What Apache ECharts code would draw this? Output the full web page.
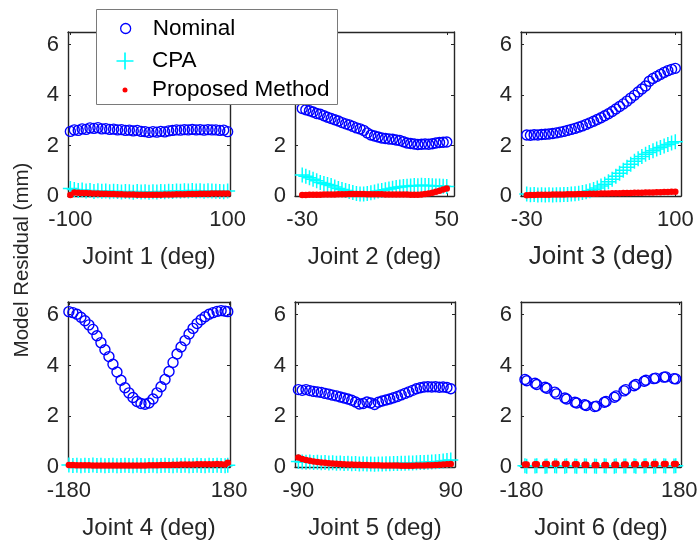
<!DOCTYPE html>
<html><head><meta charset="utf-8">
<script src="https://cdn.jsdelivr.net/npm/echarts@6/dist/echarts.min.js"></script>
<style>html,body{margin:0;padding:0;background:#fff}#c{width:699px;height:542px}</style>
</head><body><div id="c"></div>
<script>
// ---------- data ----------
const seriesNames = ['Nominal', 'CPA', 'Proposed Method'];
const xAxisTitles = ['Joint 1 (deg)', 'Joint 2 (deg)', 'Joint 3 (deg)', 'Joint 4 (deg)', 'Joint 5 (deg)', 'Joint 6 (deg)'];
const xTickValues = [[-100, 100], [-30, 50], [-30, 100], [-180, 180], [-90, 90], [-180, 180]];
const yTickValues = [0, 2, 4, 6];
const yTitle = 'Model Residual (mm)';

const x1 = [-100,-95,-90,-85,-80,-75,-70,-65,-60,-55,-50,-45,-40,-35,-30,-25,-20,-15,-10,-5,0,5,10,15,20,25,30,35,40,45,50,55,60,65,70,75,80,85,90,95,100];
const nominal1 = [2.56,2.62,2.60,2.66,2.64,2.70,2.68,2.71,2.66,2.67,2.64,2.65,2.62,2.63,2.60,2.61,2.58,2.60,2.56,2.55,2.52,2.55,2.53,2.56,2.54,2.58,2.60,2.62,2.61,2.63,2.62,2.64,2.62,2.63,2.61,2.63,2.62,2.62,2.60,2.61,2.55];
const cpa1 = [0.30,0.26,0.22,0.24,0.20,0.22,0.18,0.21,0.19,0.20,0.17,0.19,0.18,0.16,0.18,0.17,0.15,0.18,0.16,0.17,0.15,0.17,0.16,0.18,0.17,0.19,0.18,0.20,0.19,0.21,0.20,0.22,0.20,0.21,0.19,0.21,0.20,0.19,0.18,0.17,0.20];
const proposed1 = [0.04,0.14,0.13,0.12,0.12,0.11,0.10,0.10,0.09,0.09,0.08,0.08,0.07,0.07,0.06,0.06,0.06,0.05,0.05,0.05,0.05,0.05,0.05,0.05,0.06,0.06,0.06,0.07,0.07,0.07,0.08,0.08,0.08,0.09,0.09,0.09,0.10,0.10,0.10,0.10,0.10];

const x2 = [-30,-28,-26,-24,-22,-20,-18,-16,-14,-12,-10,-8,-6,-4,-2,0,2,4,6,8,10,12,14,16,18,20,22,24,26,28,30,32,34,36,38,40,42,44,46,48,50];
const nominal2 = [3.47,3.42,3.38,3.33,3.27,3.24,3.18,3.12,3.07,3.02,2.97,2.91,2.86,2.82,2.76,2.70,2.66,2.60,2.50,2.42,2.38,2.34,2.30,2.28,2.26,2.25,2.22,2.20,2.15,2.10,2.08,2.06,2.04,2.05,2.06,2.05,2.07,2.10,2.12,2.13,2.14];
const cpa2 = [0.83,0.78,0.72,0.66,0.60,0.54,0.50,0.46,0.42,0.36,0.30,0.26,0.22,0.18,0.14,0.10,0.08,0.08,0.10,0.13,0.16,0.20,0.22,0.25,0.28,0.31,0.34,0.36,0.38,0.39,0.40,0.42,0.41,0.43,0.42,0.42,0.41,0.40,0.40,0.39,0.38];
const proposed2 = [0.04,0.04,0.05,0.05,0.05,0.05,0.06,0.06,0.06,0.06,0.07,0.07,0.07,0.08,0.08,0.08,0.08,0.08,0.07,0.07,0.07,0.07,0.07,0.06,0.06,0.06,0.06,0.06,0.06,0.06,0.05,0.05,0.05,0.06,0.08,0.10,0.13,0.17,0.21,0.26,0.30];

const x3 = [-30,-26.75,-23.5,-20.25,-17,-13.75,-10.5,-7.25,-4,-0.75,2.5,5.75,9,12.25,15.5,18.75,22,25.25,28.5,31.75,35,38.25,41.5,44.75,48,51.25,54.5,57.75,61,64.25,67.5,70.75,74,77.25,80.5,83.75,87,90.25,93.5,96.75,100];
const nominal3 = [2.42,2.41,2.43,2.42,2.44,2.45,2.46,2.48,2.50,2.53,2.56,2.60,2.64,2.68,2.73,2.78,2.84,2.90,2.96,3.03,3.10,3.18,3.26,3.35,3.45,3.55,3.65,3.76,3.88,3.99,4.12,4.24,4.36,4.55,4.66,4.74,4.82,4.90,4.97,5.02,5.06];
const cpa3 = [0.08,0.05,0.06,0.04,0.05,0.04,0.05,0.04,0.05,0.05,0.06,0.06,0.08,0.09,0.11,0.14,0.17,0.21,0.26,0.32,0.40,0.47,0.56,0.66,0.78,0.90,1.02,1.14,1.26,1.38,1.48,1.57,1.65,1.72,1.79,1.86,1.92,1.98,2.04,2.10,2.15];
const proposed3 = [0.03,0.04,0.04,0.05,0.05,0.05,0.05,0.06,0.06,0.06,0.06,0.07,0.07,0.07,0.08,0.08,0.08,0.09,0.09,0.09,0.10,0.10,0.10,0.11,0.11,0.11,0.12,0.12,0.12,0.13,0.13,0.13,0.14,0.14,0.14,0.15,0.15,0.16,0.16,0.17,0.17];

const x4 = [-180,-171,-162,-153,-144,-135,-126,-117,-108,-99,-90,-81,-72,-63,-54,-45,-36,-27,-18,-9,0,9,18,27,36,45,54,63,72,81,90,99,108,117,126,135,144,153,162,171,177];
const nominal4 = [6.12,6.08,6.02,5.90,5.76,5.60,5.42,5.17,4.90,4.62,4.35,4.05,3.74,3.42,3.12,2.92,2.74,2.58,2.50,2.47,2.52,2.68,2.92,3.16,3.45,3.76,4.12,4.45,4.73,4.98,5.24,5.46,5.65,5.80,5.92,6.02,6.08,6.13,6.16,6.14,6.12];
const cpa4 = [0.08,0.06,0.07,0.05,0.07,0.06,0.08,0.06,0.07,0.05,0.06,0.07,0.05,0.06,0.07,0.06,0.05,0.07,0.06,0.05,0.06,0.07,0.05,0.06,0.07,0.06,0.05,0.07,0.06,0.07,0.05,0.06,0.07,0.06,0.05,0.07,0.06,0.07,0.06,0.05,0.07];
const proposed4 = [0.08,0.08,0.07,0.07,0.07,0.07,0.06,0.06,0.06,0.06,0.06,0.06,0.06,0.06,0.06,0.06,0.06,0.06,0.06,0.06,0.07,0.07,0.07,0.08,0.08,0.08,0.09,0.09,0.10,0.10,0.10,0.10,0.11,0.11,0.11,0.11,0.11,0.12,0.11,0.10,0.17];

const x5 = [-90,-85.5,-81,-76.5,-72,-67.5,-63,-58.5,-54,-49.5,-45,-40.5,-36,-31.5,-27,-22.5,-18,-13.5,-9,-4.5,0,4.5,9,13.5,18,22.5,27,31.5,36,40.5,45,49.5,54,58.5,63,67.5,72,76.5,81,85.5,90];
const nominal5 = [3.05,3.02,3.05,3.01,2.98,2.96,2.94,2.90,2.87,2.83,2.80,2.76,2.72,2.68,2.63,2.56,2.48,2.50,2.56,2.52,2.46,2.55,2.60,2.64,2.68,2.73,2.78,2.84,2.90,2.96,3.02,3.08,3.12,3.15,3.16,3.15,3.16,3.14,3.15,3.13,3.08];
const cpa5 = [0.22,0.20,0.19,0.20,0.18,0.19,0.17,0.18,0.16,0.17,0.15,0.16,0.14,0.15,0.13,0.14,0.12,0.13,0.12,0.12,0.11,0.12,0.12,0.13,0.13,0.14,0.14,0.15,0.15,0.16,0.16,0.17,0.18,0.18,0.19,0.20,0.21,0.22,0.24,0.26,0.28];
const proposed5 = [0.37,0.32,0.28,0.25,0.22,0.20,0.18,0.17,0.15,0.14,0.13,0.12,0.11,0.10,0.10,0.09,0.09,0.08,0.08,0.07,0.07,0.07,0.06,0.06,0.06,0.06,0.06,0.05,0.05,0.05,0.05,0.06,0.06,0.06,0.07,0.07,0.08,0.09,0.10,0.11,0.12];

const x6 = [-172,-168,-149,-145,-126,-122,-104,-100,-81,-77,-58,-54,-36,-32,-13,-9,9,13,32,36,54,58,77,81,100,104,122,126,145,149,168,172];
const nominal6 = [3.45,3.40,3.30,3.25,3.14,3.10,2.95,2.88,2.72,2.68,2.55,2.52,2.45,2.42,2.38,2.40,2.55,2.58,2.75,2.80,3.00,3.05,3.20,3.25,3.38,3.42,3.48,3.50,3.54,3.55,3.48,3.47];
const cpa6 = [0.05,0.03,0.04,0.05,0.03,0.04,0.05,0.04,0.03,0.05,0.04,0.03,0.05,0.04,0.04,0.03,0.05,0.04,0.03,0.05,0.04,0.04,0.05,0.03,0.04,0.05,0.03,0.04,0.05,0.04,0.04,0.05];
const proposed6 = [0.10,0.10,0.11,0.11,0.12,0.12,0.13,0.13,0.12,0.12,0.11,0.11,0.09,0.09,0.08,0.08,0.08,0.08,0.09,0.09,0.10,0.10,0.11,0.11,0.11,0.11,0.12,0.12,0.12,0.12,0.12,0.12];

// ---------- layout / style ----------
const panels = [
  {x: x1, ys: [nominal1, cpa1, proposed1]},
  {x: x2, ys: [nominal2, cpa2, proposed2]},
  {x: x3, ys: [nominal3, cpa3, proposed3]},
  {x: x4, ys: [nominal4, cpa4, proposed4]},
  {x: x5, ys: [nominal5, cpa5, proposed5]},
  {x: x6, ys: [nominal6, cpa6, proposed6]}
];
const xLimits = [[-103, 103], [-34, 54], [-35, 105], [-182, 182], [-94, 95], [-181, 184]];
const yLimit = [0, 6.5];
const gridBoxes = [
  {left: 68, top: 32, width: 162, height: 164},
  {left: 295, top: 32, width: 159, height: 164},
  {left: 521, top: 32, width: 160, height: 164},
  {left: 68, top: 302, width: 162, height: 165},
  {left: 295, top: 302, width: 160, height: 165},
  {left: 521, top: 302, width: 160, height: 165}
];
const FONT = '"Liberation Sans", Arial, Helvetica, sans-serif';
const AXC = '#262626';
const AXW = 1.4;
const PLUS = 'path://M9,0 H11 V9 H20 V11 H11 V20 H9 V11 H0 V9 H9 Z';

const grid = [], xAxis = [], yAxis = [], series = [];
const xTop = [], yRight = [];
panels.forEach((p, i) => {
  grid.push(Object.assign({outerBoundsMode: 'none', containLabel: false}, gridBoxes[i]));
  const nameSize = i === 2 ? 26 : 24;
  xAxis.push({
    type: 'value', gridIndex: i, position: 'bottom', min: xLimits[i][0], max: xLimits[i][1],
    name: xAxisTitles[i], nameLocation: 'middle', nameGap: 61 - nameSize / 2,
    nameTextStyle: {fontSize: nameSize, fontFamily: FONT, color: AXC},
    axisLine: {show: true, onZero: false, lineStyle: {color: AXC, width: AXW}},
    axisTick: {show: true, inside: true, length: 3, customValues: xTickValues[i], lineStyle: {color: AXC}},
    axisLabel: {show: true, customValues: xTickValues[i], margin: 13, fontSize: 22, fontFamily: FONT, color: AXC,
      formatter: v => String(v)},
    splitLine: {show: false}
  });
  xTop.push({
    type: 'value', gridIndex: i, position: 'top', min: xLimits[i][0], max: xLimits[i][1],
    axisLine: {show: true, onZero: false, lineStyle: {color: AXC, width: AXW}},
    axisTick: {show: true, inside: true, length: 3, customValues: xTickValues[i], lineStyle: {color: AXC}},
    axisLabel: {show: false}, splitLine: {show: false}
  });
  yAxis.push({
    type: 'value', gridIndex: i, position: 'left', min: yLimit[0], max: yLimit[1], interval: 2,
    axisLine: {show: true, onZero: false, lineStyle: {color: AXC, width: AXW}},
    axisTick: {show: true, inside: true, length: 3, customValues: yTickValues, lineStyle: {color: AXC}},
    axisLabel: {show: true, customValues: yTickValues, margin: 9, fontSize: 22, fontFamily: FONT, color: AXC,
      formatter: v => (yTickValues.indexOf(v) >= 0 ? String(v) : '')},
    splitLine: {show: false}
  });
  yRight.push({
    type: 'value', gridIndex: i, position: 'right', min: yLimit[0], max: yLimit[1], interval: 2,
    axisLine: {show: true, onZero: false, lineStyle: {color: AXC, width: AXW}},
    axisTick: {show: true, inside: true, length: 3, customValues: yTickValues, lineStyle: {color: AXC}},
    axisLabel: {show: false}, splitLine: {show: false}
  });
  const pts = k => p.x.map((xv, j) => [xv, p.ys[k][j]]);
  series.push({
    name: seriesNames[0], type: 'scatter', xAxisIndex: i, yAxisIndex: i, clip: false, silent: true,
    symbol: 'circle', symbolSize: 10,
    itemStyle: {color: 'rgba(0,0,0,0)', borderColor: '#0000ff', borderWidth: 1.4, opacity: 1},
    data: pts(0), z: 2
  });
  series.push({
    name: seriesNames[1], type: 'scatter', xAxisIndex: i, yAxisIndex: i, clip: false, silent: true,
    symbol: PLUS, symbolSize: 15, symbolKeepAspect: true,
    itemStyle: {color: '#00ffff', opacity: 1},
    data: pts(1), z: 3
  });
  series.push({
    name: seriesNames[2], type: 'scatter', xAxisIndex: i, yAxisIndex: i, clip: false, silent: true,
    symbol: 'circle', symbolSize: 6.5,
    itemStyle: {color: '#ff0000', opacity: 1},
    data: pts(2), z: 4
  });
});

// legend: content is shifted so its bounding box starts at `left`, i.e. at the icon's left edge
const legendBase = {
  orient: 'vertical', padding: 0, itemWidth: 44, selectedMode: false, z: 20,
  textStyle: {fontSize: 22.5, fontFamily: FONT, color: '#000'}
};
const legend = [
  Object.assign({}, legendBase, {left: 120, top: 17, itemHeight: 10,
    data: [{name: seriesNames[0], icon: 'circle', itemStyle: {color: 'rgba(0,0,0,0)', borderColor: '#0000ff', borderWidth: 1.3}}]}),
  Object.assign({}, legendBase, {left: 116.5, top: 49.5, itemHeight: 17,
    data: [{name: seriesNames[1], icon: PLUS, itemStyle: {color: '#00ffff', borderWidth: 0}}]}),
  Object.assign({}, legendBase, {left: 122.5, top: 78.5, itemHeight: 5,
    data: [{name: seriesNames[2], icon: 'circle', itemStyle: {color: '#ff0000', borderWidth: 0}}]})
];

const chart = echarts.init(document.getElementById('c'), null, {renderer: 'canvas'});
chart.setOption({
  backgroundColor: '#ffffff',
  animation: false,
  grid: grid,
  xAxis: xAxis.concat(xTop),
  yAxis: yAxis.concat(yRight),
  series: series,
  legend: legend,
  graphic: [
    {type: 'rect', z: 10, shape: {x: 96.5, y: 9.5, width: 241, height: 95},
     style: {fill: '#ffffff', stroke: '#7a7a7a', lineWidth: 1}},
    {type: 'text', z: 10, x: 22, y: 260, rotation: Math.PI / 2,
     style: {text: yTitle, font: '20.5px ' + FONT, fill: AXC, align: 'center', verticalAlign: 'middle'}}
  ]
});
</script>
</body></html>
